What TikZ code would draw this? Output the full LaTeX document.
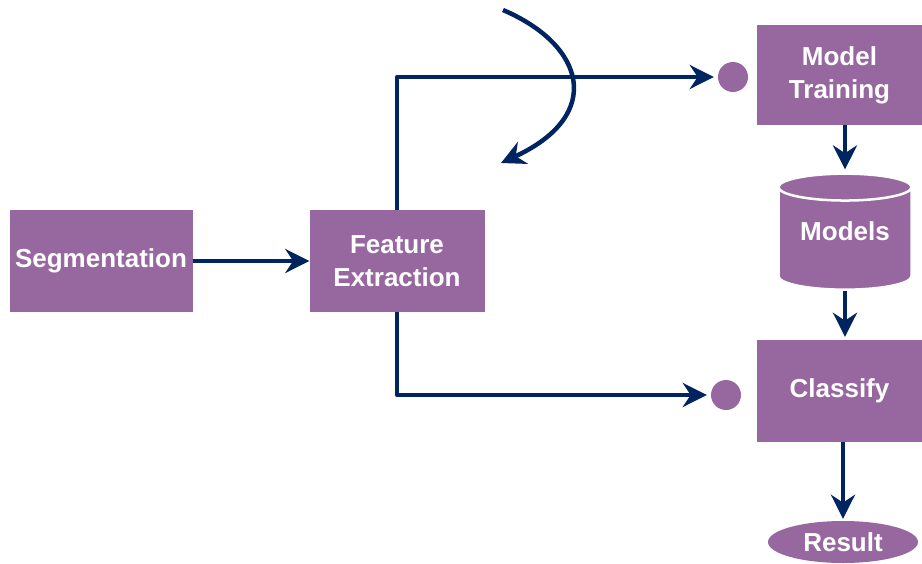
\documentclass[tikz,border=0pt]{standalone}
\usepackage{fontspec}
\setmainfont{Liberation Sans}
\usepackage{tikz}
\usetikzlibrary{arrows.meta,shapes.geometric}
\definecolor{plum}{RGB}{151,104,160}
\definecolor{navy}{RGB}{0,36,96}
\tikzset{
  flow/.style={-{Stealth[length=24pt,width=24pt]}, line width=4.5pt, line join=round, color=navy},
  box/.style={rectangle, fill=plum, text=white, font=\bfseries\fontsize{26}{33}\selectfont, align=center, inner sep=0pt},
  dot/.style={circle, fill=plum, minimum size=30pt, inner sep=0pt}
}
\begin{document}
\begin{tikzpicture}[x=1pt,y=-1pt]
\useasboundingbox (0,0) rectangle (922,563);
\node[box, minimum width=183pt, minimum height=102pt] (seg) at (101,261) {Segmentation};
\node[box, minimum width=175pt, minimum height=102pt] (feat) at (397,261) {Feature\\Extraction};
\node[box, minimum width=165pt, minimum height=100pt] (train) at (839.5,75) {Model\\Training};
\node[box, shape=cylinder, shape border rotate=90, aspect=0.3, draw=white, line width=2.5pt,
      minimum width=133pt, minimum height=116pt, text depth=16pt] (models) at (845,239) {Models};
\node[box, minimum width=165pt, minimum height=102pt] (cls) at (839.5,391) {Classify};
\node[box, ellipse, minimum width=150pt, minimum height=42pt] (res) at (843,542) {Result};
\node[dot] (dtrain) at (733,77) {};
\node[dot] (dcls) at (726,395) {};
\coordinate (loopA) at (503,10);
\coordinate (loopB) at (501,163);
\draw[flow] (seg) -- (feat);
\draw[flow, shorten >=4pt] (feat.north) |- (dtrain.west);
\draw[flow, shorten >=4pt] (feat.south) |- (dcls.west);
\draw[flow] (loopA) .. controls (585,45) and (605,115) .. (loopB);
\draw[flow, shorten >=3pt] (train.south -| models.north) -- (models.north);
\draw[flow, shorten >=3pt] (models.south) -- (models.south |- cls.north);
\draw[flow, shorten >=2pt] (cls.south -| res.north) -- (res.north);
\end{tikzpicture}
\end{document}
